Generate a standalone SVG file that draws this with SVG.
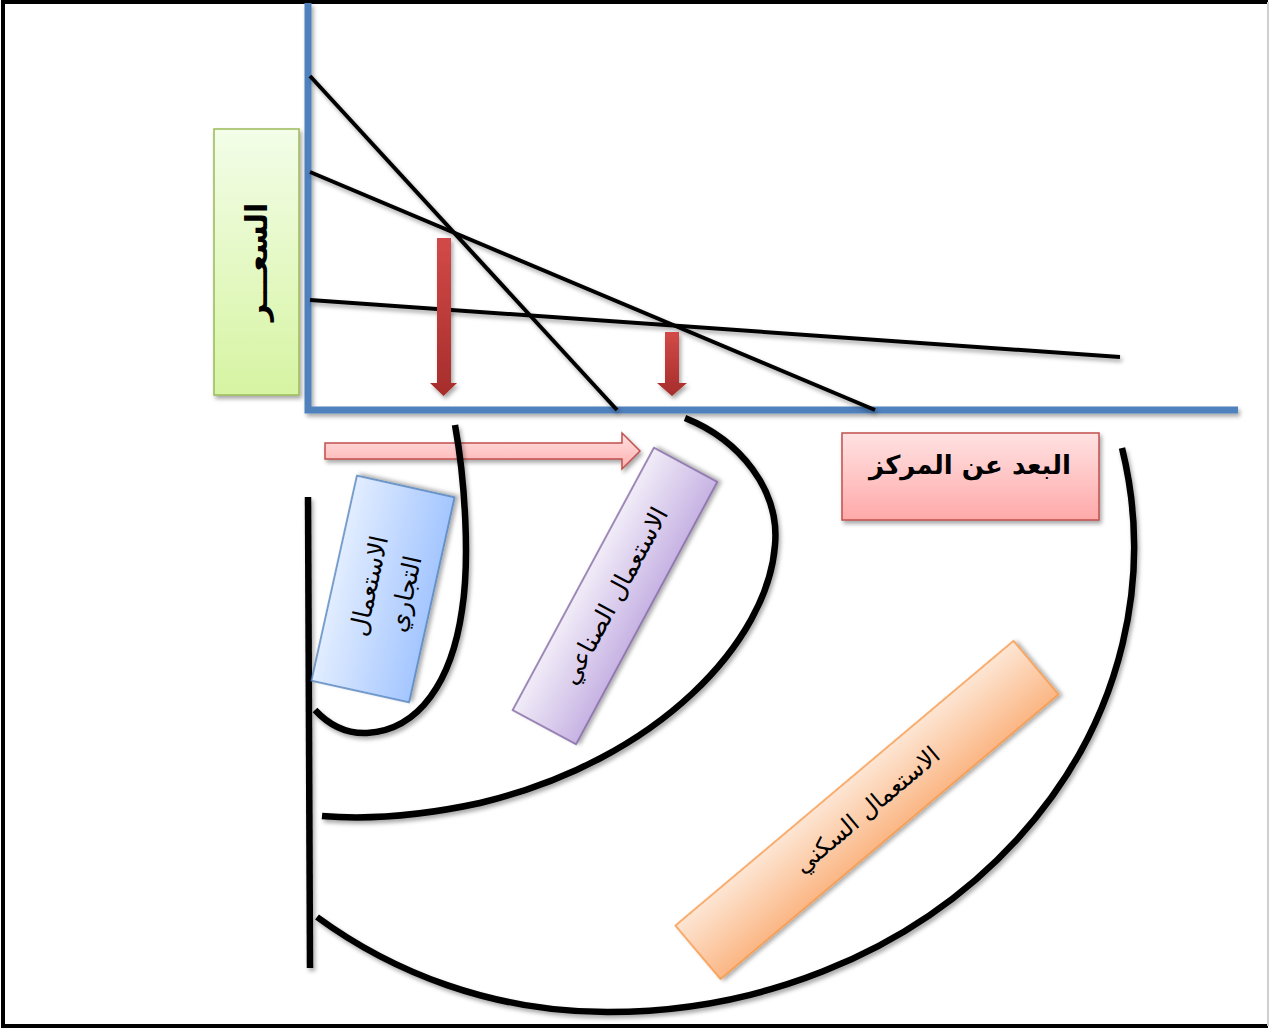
<svg xmlns="http://www.w3.org/2000/svg" width="1270" height="1029" viewBox="0 0 1270 1029">
  <defs>
    <filter id="shadow" x="-20%" y="-20%" width="140%" height="140%">
      <feDropShadow dx="2" dy="3" stdDeviation="2" flood-color="#000" flood-opacity="0.35"/>
    </filter>
    <linearGradient id="gGreen" x1="0" y1="0" x2="0" y2="1">
      <stop offset="0" stop-color="#f3fde8"/>
      <stop offset="1" stop-color="#d6f4a2"/>
    </linearGradient>
    <linearGradient id="gRed" x1="0" y1="0" x2="0" y2="1">
      <stop offset="0" stop-color="#ffe2e2"/>
      <stop offset="1" stop-color="#ffa9a9"/>
    </linearGradient>
    <linearGradient id="gPink" x1="0" y1="0" x2="0" y2="1">
      <stop offset="0" stop-color="#ffe0e0"/>
      <stop offset="1" stop-color="#ffb0b0"/>
    </linearGradient>
    <linearGradient id="gBlue" x1="0" y1="0" x2="0" y2="1">
      <stop offset="0" stop-color="#e2edff"/>
      <stop offset="1" stop-color="#a4c6ff"/>
    </linearGradient>
    <linearGradient id="gPurple" x1="0" y1="0" x2="0" y2="1">
      <stop offset="0" stop-color="#f1ecf8"/>
      <stop offset="1" stop-color="#c7b3e3"/>
    </linearGradient>
    <linearGradient id="gOrange" x1="0" y1="0" x2="0" y2="1">
      <stop offset="0" stop-color="#fde6d4"/>
      <stop offset="1" stop-color="#fbb684"/>
    </linearGradient>
    <linearGradient id="gArrow" x1="0" y1="0" x2="0" y2="1">
      <stop offset="0" stop-color="#d24a48"/>
      <stop offset="1" stop-color="#a62d2b"/>
    </linearGradient>
  </defs>
  <style>
    .ar { font-family: "DejaVu Sans", "Noto Sans", sans-serif; fill: #000; text-anchor: middle; }
    .b { font-weight: bold; }
    .axis { stroke: #4f81bd; stroke-width: 7; fill: none; }
    .ln { stroke: #000; stroke-width: 4; fill: none; }
    .arc { stroke: #000; stroke-width: 6.5; fill: none; }
  </style>

  <rect x="0" y="0" width="1270" height="1029" fill="#fff"/>
  <!-- frame -->
  <path d="M1268,2 H3 V1026 H1268" fill="none" stroke="#000" stroke-width="4"/>
  <line x1="1268" y1="2" x2="1268" y2="1026" stroke="#d0d0d0" stroke-width="2"/>

  <!-- axes -->
  <g id="axes" filter="url(#shadow)">
    <path class="axis" d="M308,3 V410 H1238"/>
  </g>

  <!-- price lines -->
  <g id="price-lines" filter="url(#shadow)">
    <line class="ln" x1="310" y1="76" x2="617" y2="410"/>
    <line class="ln" x1="310" y1="172" x2="875" y2="410"/>
    <line class="ln" x1="310" y1="300" x2="1120" y2="357"/>
  </g>

  <!-- connectors: arrows and zone curves -->
  <g id="connectors">
    <g filter="url(#shadow)">
      <path d="M437,238 H451 V383 H457 L443.5,396 L430,383 H437 Z" fill="url(#gArrow)"/>
      <path d="M665,332 H679 V383 H687 L672,396 L657,383 H665 Z" fill="url(#gArrow)"/>
      <path d="M325,443 H622 V433 L640,451 L622,469 V459 H325 Z" fill="url(#gPink)" stroke="#c0504d" stroke-width="1.5"/>
    </g>
    <g filter="url(#shadow)">
      <line class="arc" x1="308" y1="497" x2="310" y2="968" stroke-width="6"/>
      <path class="arc" d="M455,425 C465,480 470,560 462,610 C452,680 420,730 367,733 C345,734 328,724 315,710"/>
      <path class="arc" d="M685,418 C740,440 780,490 775,545 C768,640 660,760 480,803 C420,816 370,820 322,816"/>
      <path class="arc" d="M1122,448 A526,465 0 0 1 607,1012 C492,1012 392,972 317,917"/>
    </g>
  </g>

  <!-- price axis label -->
  <g id="node-price">
    <rect x="214" y="129" width="85" height="266" fill="url(#gGreen)" stroke="#9bbb59" stroke-width="1.5" filter="url(#shadow)"/>
    <text class="ar b" font-size="30" transform="translate(257,262) rotate(-90)" dy="10">السعـــر</text>
  </g>

  <!-- distance axis label -->
  <g id="node-distance">
    <rect x="842" y="433" width="257" height="87" fill="url(#gRed)" stroke="#c0504d" stroke-width="1.5" filter="url(#shadow)"/>
    <text class="ar b" font-size="26" x="970" y="474">البعد عن المركز</text>
  </g>

  <!-- commercial use -->
  <g id="node-commercial" transform="translate(383,589) rotate(-77.5)">
    <rect x="-105" y="-50" width="210" height="100" fill="url(#gBlue)" stroke="#4f81bd" stroke-width="1.5" filter="url(#shadow)"/>
    <text class="ar" font-size="25" y="-6">الاستعمال</text>
    <text class="ar" font-size="25" y="31">التجاري</text>
  </g>

  <!-- industrial use -->
  <g id="node-industrial" transform="translate(615,596) rotate(-61.7)">
    <rect x="-149" y="-36" width="298" height="72" fill="url(#gPurple)" stroke="#8064a2" stroke-width="1.5" filter="url(#shadow)"/>
    <text class="ar" font-size="25" y="8">الاستعمال الصناعي</text>
  </g>

  <!-- residential use -->
  <g id="node-residential" transform="translate(867,810) rotate(-40.1)">
    <rect x="-221" y="-35" width="442" height="70" fill="url(#gOrange)" stroke="#f79646" stroke-width="1.5" filter="url(#shadow)"/>
    <text class="ar" font-size="24" y="8">الاستعمال السكني</text>
  </g>
</svg>
